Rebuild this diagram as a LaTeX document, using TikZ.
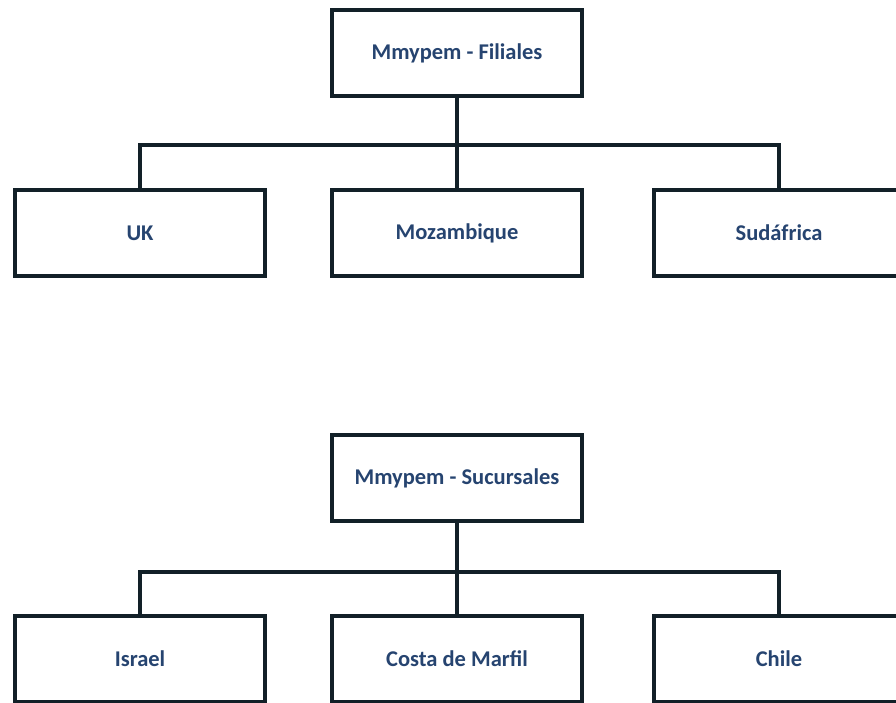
\documentclass[tikz,border=0pt]{standalone}
\usepackage{fontspec}
\setmainfont{Carlito}
\definecolor{linecol}{RGB}{18,32,40}
\definecolor{txtcol}{RGB}{38,68,112}
\begin{document}
\begin{tikzpicture}[x=1pt,y=-1pt,line join=miter,
  box/.style={draw=linecol,fill=white,line width=4pt,minimum width=250pt,minimum height=86pt,
    inner sep=0pt,font=\fontsize{22.5}{27}\selectfont\bfseries,text=txtcol},
  link/.style={draw=linecol,line width=4pt}]
  \useasboundingbox (0,0) rectangle (896,703);
  \clip (0,0) rectangle (896,703);

  % filiales
  \node[box] at (457,53) (filiales) {Mmypem - Filiales};
  \node[box] at (140,233) (uk) {UK};
  \node[box] at (457,233) (moz) {Mozambique};
  \node[box] at (779,233) (sud) {Sudáfrica};
  \coordinate (b1) at (457,145);
  \draw[link] (uk.north) |- (b1) -| (sud.north);
  \draw[link] (filiales.south) -- (moz.north);

  % sucursales
  \node[box] at (457,478) (sucursales) {Mmypem - Sucursales};
  \node[box] at (140,659) (israel) {Israel};
  \node[box] at (457,659) (costa) {Costa de Marfil};
  \node[box] at (779,659) (chile) {Chile};
  \coordinate (b2) at (457,572);
  \draw[link] (israel.north) |- (b2) -| (chile.north);
  \draw[link] (sucursales.south) -- (costa.north);
\end{tikzpicture}
\end{document}
